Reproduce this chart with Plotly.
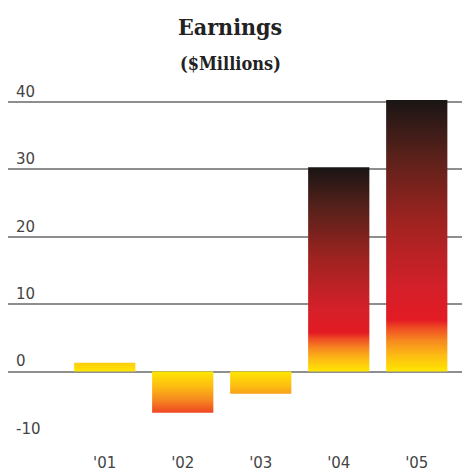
import plotly.graph_objects as go

# Earnings by fiscal year, $ millions
years = ["'01", "'02", "'03", "'04", "'05"]
earnings = [1.3, -6.1, -3.3, 30.3, 40.3]
y_ticks = [-10, 0, 10, 20, 30, 40]

BAR_WIDTH = 0.785

# Warm ramp: yellow at the zero line running to red (in units of the ramp length)
LOW_STOPS = [(0.0, "#FFE600"), (0.3, "#FDBE12"), (0.6, "#F6891F"),
             (0.85, "#EF4B24"), (1.0, "#E31B23")]
# Above the ramp: red darkening to near-black at the top of the bar
HIGH_STOPS = [(0.0, "#E31B23"), (0.15, "#D4202A"), (0.45, "#9E2320"),
              (0.75, "#58211A"), (1.0, "#191515")]


def hex_to_rgb(h):
    h = h.lstrip("#")
    return tuple(int(h[i:i + 2], 16) for i in (0, 2, 4))


def mix(c1, c2, t):
    a, b = hex_to_rgb(c1), hex_to_rgb(c2)
    return "#%02X%02X%02X" % tuple(round(a[i] + (b[i] - a[i]) * t) for i in range(3))


def color_at(stops, t):
    for (p0, c0), (p1, c1) in zip(stops, stops[1:]):
        if t <= p1:
            return mix(c0, c1, (t - p0) / (p1 - p0) if p1 > p0 else 0)
    return stops[-1][1]


def bar_colorscale(value):
    """Colorscale from the zero line (0) to the bar end (1)."""
    m = abs(value)
    # tall bars ramp over their lowest 19 %, short ones over a fixed 7 units
    ramp = 0.19 * m if m > 10 else 7.0
    pts = [(p * ramp, c) for p, c in LOW_STOPS]
    if m > ramp:
        pts += [(ramp + p * (m - ramp), c) for p, c in HIGH_STOPS[1:]]
    scale = []
    for pos, col in pts:
        if pos >= m:
            break
        scale.append([pos / m, col])
    end_col = color_at(LOW_STOPS, m / ramp) if m <= ramp else HIGH_STOPS[-1][1]
    scale.append([1.0, end_col])
    return scale


fig = go.Figure()

for i, (label, v) in enumerate(zip(years, earnings)):
    x0, x1 = i - BAR_WIDTH / 2, i + BAR_WIDTH / 2
    cs = bar_colorscale(v)
    if v >= 0:
        start, stop = 0, v
    else:
        # gradient runs from the bottom of the bar up to zero
        cs = [[1 - p, c] for p, c in reversed(cs)]
        start, stop = v, 0
    fig.add_trace(go.Scatter(
        x=[x0, x1, x1, x0, x0],
        y=[0, 0, v, v, 0],
        mode="lines",
        line=dict(width=0),
        fill="toself",
        fillgradient=dict(type="vertical", colorscale=cs, start=start, stop=stop),
        name=label,
        hoverinfo="skip",
        showlegend=False,
    ))

fig.update_layout(
    width=462,
    height=471,
    margin=dict(l=8, r=0, t=80, b=32),
    paper_bgcolor="white",
    plot_bgcolor="white",
    showlegend=False,
    xaxis=dict(
        range=[-1.24, 4.58],
        tickvals=list(range(len(years))),
        ticktext=years,
        showgrid=False,
        zeroline=False,
        showline=False,
        ticks="",
        ticklabelstandoff=13,
        tickfont=dict(family="DejaVu Sans", size=15, color="#444444"),
    ),
    yaxis=dict(
        range=[-10, 43.26],
        tickvals=y_ticks,
        ticktext=[str(t) for t in y_ticks],
        showgrid=True,
        gridcolor="#8E8E8E",
        gridwidth=2,
        zeroline=False,
        showline=False,
        ticks="",
        ticklabelposition="inside top",
        ticklabelstandoff=5,
        tickfont=dict(family="DejaVu Sans", size=15, color="#444444"),
    ),
    annotations=[
        dict(text="<b>Earnings</b>", x=0.49, y=1.1504, xref="paper", yref="paper",
             showarrow=False, xanchor="center", yanchor="middle",
             font=dict(family="DejaVu Serif Condensed", size=23, color="#222222")),
        dict(text="<b>($Millions)</b>", x=0.49, y=1.0446, xref="paper", yref="paper",
             showarrow=False, xanchor="center", yanchor="middle",
             font=dict(family="DejaVu Serif Condensed", size=18, color="#222222")),
    ],
)

fig.write_html("out.html")
